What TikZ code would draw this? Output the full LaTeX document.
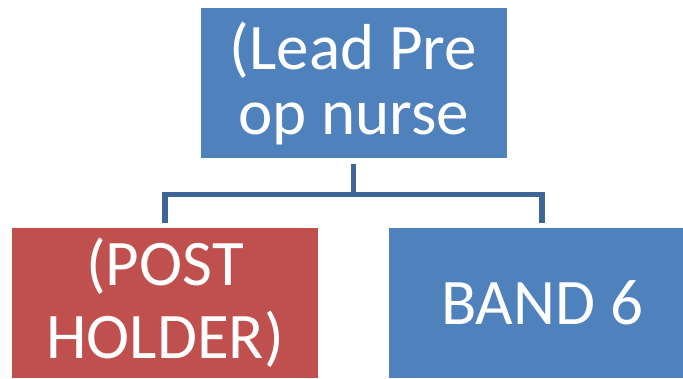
\documentclass[tikz,border=0pt]{standalone}
\usepackage{fontspec}
\setmainfont{Carlito}
\usetikzlibrary{positioning}
\definecolor{boxblue}{RGB}{79,129,189}
\definecolor{boxred}{RGB}{192,80,77}
\definecolor{linkblue}{RGB}{61,101,151}
\tikzset{
  post/.style={fill=#1, text=white, minimum width=306pt, minimum height=150pt,
    align=center, inner sep=0pt, font=\fontsize{65}{65}\selectfont},
  link/.style={draw=linkblue, line width=5.5pt, shorten <=6pt, shorten >=5pt}
}
\begin{document}
\begin{tikzpicture}[x=1pt,y=1pt]
	\useasboundingbox (0,0) rectangle (683,379);

	\node[post=boxblue] (lead) at (353.5,296) {(Lead Pre\\[0pt]op nurse};
	\node[post=boxred, font=\fontsize{65}{73}\selectfont] (holder) at (165,76) {(POST\\HOLDER)};
	\node[post=boxblue] (band) at (542,76) {BAND 6};

	\draw[link] (lead.south) -- ++(0,-36.5) -| (holder.north);
	\draw[link] (lead.south) -- ++(0,-36.5) -| (band.north);
\end{tikzpicture}
\end{document}
